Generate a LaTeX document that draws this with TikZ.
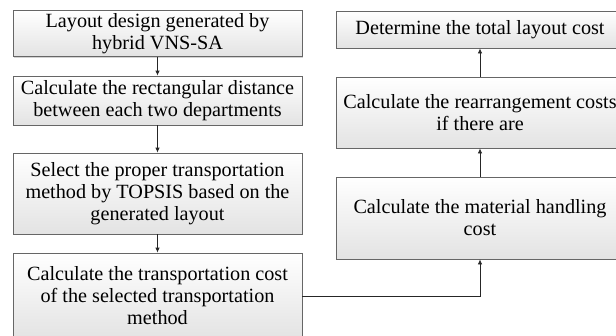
\documentclass[tikz,border=0pt]{standalone}
\usepackage{fontspec}
\setmainfont{Liberation Serif}
\usetikzlibrary{arrows.meta,shadows}
\begin{document}
\begin{tikzpicture}[x=1pt,y=-1pt,
  box/.style={draw=black!60, line width=0.8pt, top color=white, bottom color=black!11,
    align=center, inner sep=0pt, font=\fontsize{20.2}{22}\selectfont,
    drop shadow={shadow xshift=1.2pt, shadow yshift=-1.2pt, opacity=0.35, fill=black!50}},
  arr/.style={-{Latex[length=5pt,width=4.5pt]}, line width=0.8pt, draw=black!85}]
\useasboundingbox (0,0) rectangle (616,335);
\clip (0,0) rectangle (616,335);
\node[box, minimum width=289pt, minimum height=46pt] (b1) at (157.5,33.5) {Layout design generated by\\hybrid VNS-SA};
\node[box, minimum width=289pt, minimum height=49pt] (b2) at (157.5,100.5) {Calculate the rectangular distance\\between each two departments};
\node[box, minimum width=289pt, minimum height=81pt] (b3) at (157.5,193.5) {Select the proper transportation\\method by TOPSIS based on the\\generated layout};
\node[box, minimum width=289pt, minimum height=86pt] (b4) at (157.5,296) {Calculate the transportation cost\\of the selected transportation\\method};
\node[box, minimum width=288pt, minimum height=37pt] (r1) at (480,29.5) {Determine the total layout cost};
\node[box, minimum width=288pt, minimum height=71pt] (r2) at (480,112.5) {Calculate the rearrangement costs\\if there are};
\node[box, minimum width=288pt, minimum height=82pt] (r3) at (480,218) {Calculate the material handling\\cost};
\draw[arr] (b1) -- (b2);
\draw[arr] (b2) -- (b3);
\draw[arr] (b3) -- (b4);
\draw[arr] (b4.east) -| (r3.south);
\draw[arr] (r3) -- (r2);
\draw[arr] (r2) -- (r1);
\end{tikzpicture}
\end{document}
